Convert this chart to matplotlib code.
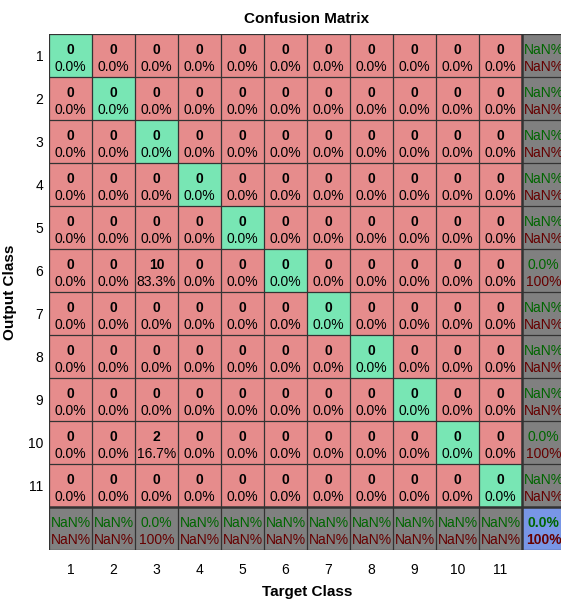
import numpy as np
import matplotlib.pyplot as plt

plt.rcParams['font.family'] = ['Liberation Sans', 'DejaVu Sans']

classes = ['1', '2', '3', '4', '5', '6', '7', '8', '9', '10', '11']
# rows = output class, columns = target class
counts = [
    [0, 0, 0, 0, 0, 0, 0, 0, 0, 0, 0],
    [0, 0, 0, 0, 0, 0, 0, 0, 0, 0, 0],
    [0, 0, 0, 0, 0, 0, 0, 0, 0, 0, 0],
    [0, 0, 0, 0, 0, 0, 0, 0, 0, 0, 0],
    [0, 0, 0, 0, 0, 0, 0, 0, 0, 0, 0],
    [0, 0, 10, 0, 0, 0, 0, 0, 0, 0, 0],
    [0, 0, 0, 0, 0, 0, 0, 0, 0, 0, 0],
    [0, 0, 0, 0, 0, 0, 0, 0, 0, 0, 0],
    [0, 0, 0, 0, 0, 0, 0, 0, 0, 0, 0],
    [0, 0, 2, 0, 0, 0, 0, 0, 0, 0, 0],
    [0, 0, 0, 0, 0, 0, 0, 0, 0, 0, 0],
]

green = np.array([120, 230, 180]) / 255
red = np.array([230, 140, 140]) / 255
gray = np.array([128, 128, 128]) / 255
blue = np.array([120, 150, 230]) / 255
txt_good = '#006600'
txt_bad = '#660000'


def fmt(v):
    if np.isnan(v):
        return 'NaN%'
    if v == 100:
        return '100%'
    return '%.1f%%' % v


cm = np.array(counts, dtype=float)
n = cm.shape[0]
total = cm.sum()
diag = np.diag(cm)
with np.errstate(invalid='ignore', divide='ignore'):
    row_ok = diag / cm.sum(axis=1) * 100
    col_ok = diag / cm.sum(axis=0) * 100
    all_ok = diag.sum() / total * 100

rgb = np.zeros((n + 1, n + 1, 3))
for i in range(n + 1):
    for j in range(n + 1):
        if i == n and j == n:
            rgb[i, j] = blue
        elif i == n or j == n:
            rgb[i, j] = gray
        elif i == j:
            rgb[i, j] = green
        else:
            rgb[i, j] = red

fig = plt.figure(figsize=(5.61, 6.01), dpi=100)
ax = fig.add_axes([49 / 561, 51 / 601, 516 / 561, 516 / 601])
ax.imshow(rgb, extent=(0.5, n + 1.5, n + 1.5, 0.5), aspect='auto', interpolation='nearest')

fs = 10
up, dn = -0.12, 0.27
for i in range(n):
    for j in range(n):
        ax.text(j + 1, i + 1 + up, '%d' % cm[i, j], ha='center', va='center',
                fontsize=fs, fontweight='bold')
        ax.text(j + 1, i + 1 + dn, fmt(cm[i, j] / total * 100), ha='center', va='center',
                fontsize=fs)

for i in range(n):
    ax.text(n + 1, i + 1 + up, fmt(row_ok[i]), ha='center', va='center', fontsize=fs, color=txt_good)
    ax.text(n + 1, i + 1 + dn, fmt(100 - row_ok[i]), ha='center', va='center', fontsize=fs, color=txt_bad)
    ax.text(i + 1, n + 1 + up, fmt(col_ok[i]), ha='center', va='center', fontsize=fs, color=txt_good)
    ax.text(i + 1, n + 1 + dn, fmt(100 - col_ok[i]), ha='center', va='center', fontsize=fs, color=txt_bad)
ax.text(n + 1, n + 1 + up, fmt(all_ok), ha='center', va='center', fontsize=fs,
        color=txt_good, fontweight='bold')
ax.text(n + 1, n + 1 + dn, fmt(100 - all_ok), ha='center', va='center', fontsize=fs,
        color=txt_bad, fontweight='bold')

# cell borders
for k in range(n + 2):
    pos = k + 0.5
    lw = 1.8 if k == n else 0.9
    ax.axvline(pos, color='#333333', lw=lw)
    ax.axhline(pos, color='#333333', lw=lw)

ax.set_xlim(0.5, n + 1.5)
ax.set_ylim(n + 1.5, 0.5)
ax.set_xticks(range(1, n + 1))
ax.set_xticklabels(classes, fontsize=fs)
ax.set_yticks(range(1, n + 1))
ax.set_yticklabels(classes, fontsize=fs)
ax.tick_params(axis='x', length=0, pad=9)
ax.tick_params(axis='y', length=0, pad=4)
for s in ax.spines.values():
    s.set_visible(False)

ax.set_title('Confusion Matrix', fontsize=11, fontweight='bold', pad=8)
ax.set_xlabel('Target Class', fontsize=11, fontweight='bold', labelpad=6)
ax.set_ylabel('Output Class', fontsize=11, fontweight='bold', labelpad=8)

fig.savefig('out.png', dpi=100)
